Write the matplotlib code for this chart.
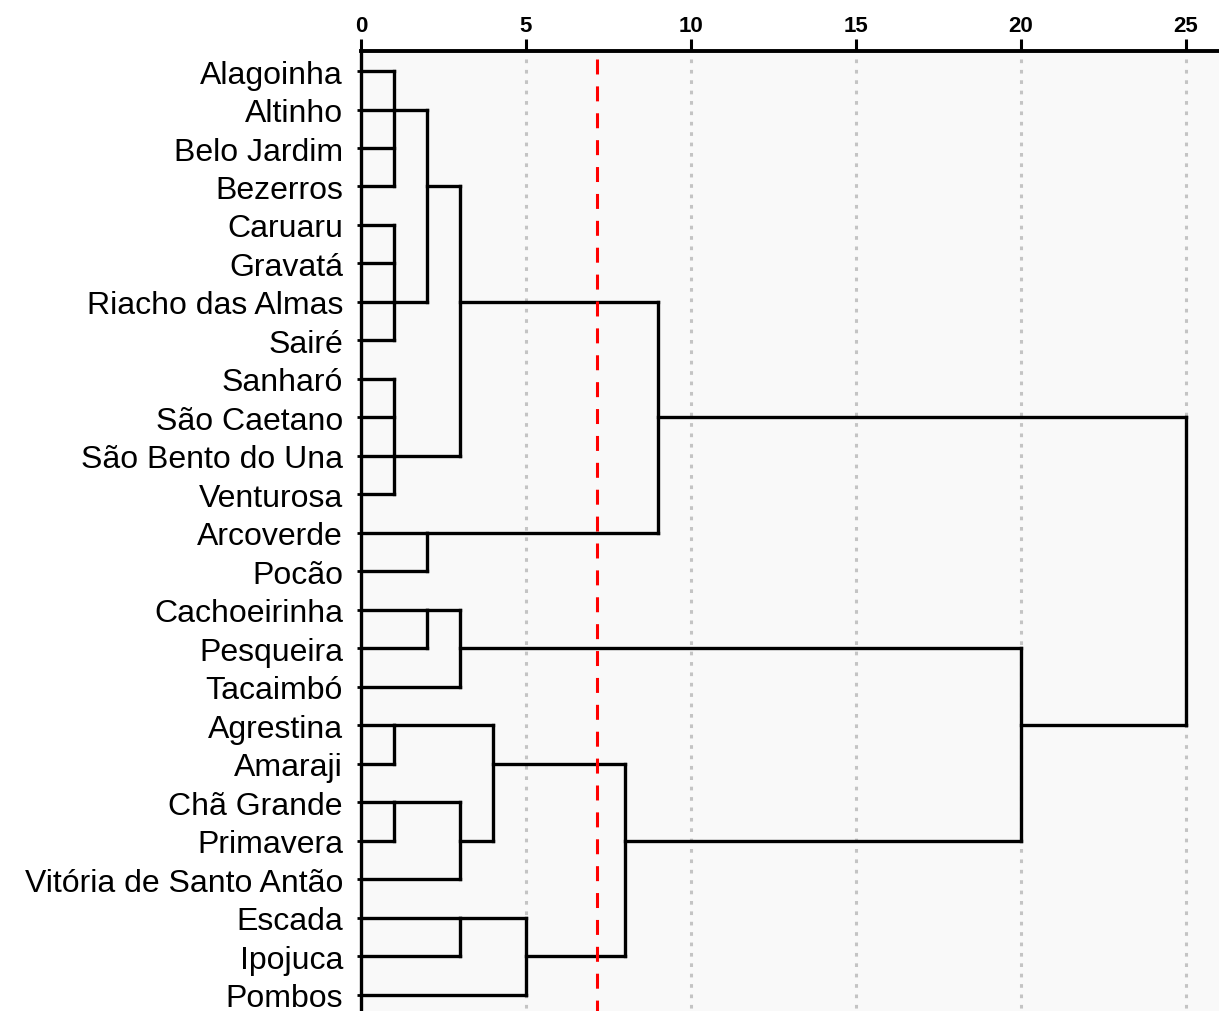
import matplotlib.pyplot as plt

# leaf labels, top to bottom
leaves = ['Alagoinha', 'Altinho', 'Belo Jardim', 'Bezerros', 'Caruaru', 'Gravatá',
          'Riacho das Almas', 'Sairé', 'Sanharó', 'São Caetano', 'São Bento do Una',
          'Venturosa', 'Arcoverde', 'Pocão', 'Cachoeirinha', 'Pesqueira', 'Tacaimbó',
          'Agrestina', 'Amaraji', 'Chã Grande', 'Primavera', 'Vitória de Santo Antão',
          'Escada', 'Ipojuca', 'Pombos']

# merges: name, children (leaf index or merge name), distance, row where the link leaves
merges = [
    ('A1', [0, 1, 2, 3], 1, 1),
    ('A2', [4, 5, 6, 7], 1, 6),
    ('A3', [8, 9, 10, 11], 1, 10),
    ('B1', ['A1', 'A2'], 2, 3),
    ('B2', ['B1', 'A3'], 3, 6),
    ('C1', [12, 13], 2, 12),
    ('D', ['B2', 'C1'], 9, 9),
    ('E1', [14, 15], 2, 14),
    ('E2', ['E1', 16], 3, 15),
    ('F1', [17, 18], 1, 17),
    ('F2', [19, 20], 1, 19),
    ('F3', ['F2', 21], 3, 20),
    ('F4', ['F1', 'F3'], 4, 18),
    ('G1', [22, 23], 3, 22),
    ('G2', ['G1', 24], 5, 23),
    ('H', ['F4', 'G2'], 8, 20),
    ('I', ['E2', 'H'], 20, 17),
    ('J', ['D', 'I'], 25, None),
]

cut_level = 7.15
xticks = [0, 5, 10, 15, 20, 25]

fig = plt.figure(figsize=(12.19, 10.12), dpi=100)
ax = fig.add_axes([361 / 1219, 0, 1 - 361 / 1219, 1 - 52 / 1012])
ax.set_facecolor('#f9f9f9')

lw = 2.4
nodes = {i: (i, 0) for i in range(len(leaves))}  # row, height
for name, kids, h, out_row in merges:
    rows = []
    for k in kids:
        r, kh = nodes[k]
        ax.plot([kh, h], [r, r], color='black', lw=lw, solid_capstyle='projecting', zorder=3)
        rows.append(r)
    ax.plot([h, h], [min(rows), max(rows)], color='black', lw=lw,
            solid_capstyle='projecting', zorder=3)
    nodes[name] = (out_row, h)

# dotted grid
for t in xticks[1:]:
    ax.plot([t, t], [-0.3, 24.42], color='#c4c4c4', lw=2.2,
            linestyle=(0, (1.2, 2.2)), zorder=1)

ax.plot([cut_level, cut_level], [-0.3, 24.42], color='red', lw=2.2,
        linestyle=(0, (4.9, 3.9)), zorder=4)

ax.set_xlim(0, 26.0)
ax.set_ylim(24.42, -0.52)

ax.xaxis.tick_top()
ax.set_xticks(xticks)
ax.set_xticklabels([str(t) for t in xticks], fontsize=16, fontweight='bold',
                   family=['Liberation Sans Narrow', 'Liberation Sans', 'DejaVu Sans'])
ax.tick_params(axis='x', direction='out', length=8.5, width=2.2, pad=2)

ax.set_yticks(range(len(leaves)))
ax.set_yticklabels(leaves, fontsize=23, family=['Liberation Sans', 'DejaVu Sans'])
ax.tick_params(axis='y', direction='out', length=3, width=2, pad=10)

for s in ['right', 'bottom']:
    ax.spines[s].set_visible(False)
ax.spines['top'].set_linewidth(2.8)
ax.spines['left'].set_linewidth(2.4)

fig.savefig('out.png', dpi=100)
